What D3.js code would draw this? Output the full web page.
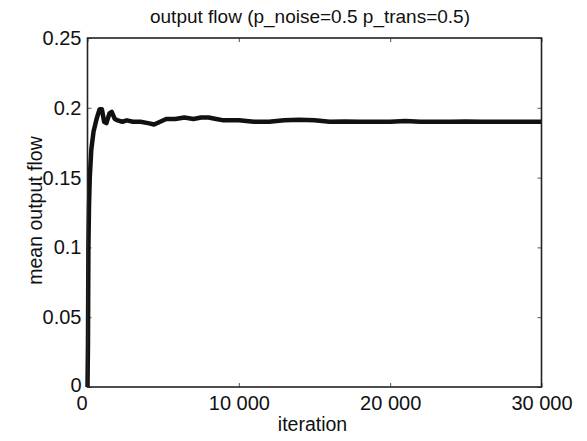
<!DOCTYPE html>
<html>
<head>
<meta charset="utf-8">
<script src="https://cdn.jsdelivr.net/npm/d3@7"></script>
<style>
  body { margin: 0; background: #fff; }
  svg text { font-family: "Liberation Sans", Arial, sans-serif; fill: #111; }
</style>
</head>
<body>
<svg width="587" height="441"></svg>
<script>
// mean output flow vs iteration
const iterations = [0, 30, 60, 100, 150, 250, 400, 600, 800, 950, 1100, 1250, 1450, 1600, 1800, 2000,
  2300, 2600, 3000, 3500, 4000, 4400, 4800, 5200, 5800, 6400, 7000, 7500, 8000, 8500, 9000, 10000,
  11000, 12000, 13000, 14000, 15000, 16000, 17000, 18000, 19000, 20000, 21000, 22000, 23000, 24000,
  25000, 26000, 27000, 28000, 29000, 30000];
const flow = [0, 0.03, 0.1, 0.13, 0.15, 0.17, 0.183, 0.192, 0.199, 0.199, 0.19, 0.189, 0.196, 0.197, 0.192, 0.191,
  0.19, 0.191, 0.19, 0.19, 0.189, 0.188, 0.19, 0.192, 0.192, 0.193, 0.192, 0.193, 0.193, 0.192, 0.191, 0.191,
  0.19, 0.19, 0.191, 0.1915, 0.191, 0.19, 0.1902, 0.19, 0.19, 0.19, 0.1905, 0.19, 0.19, 0.19,
  0.1902, 0.19, 0.19, 0.19, 0.19, 0.19];
const xTicks = [0, 10000, 20000, 30000];
const yTicks = [0, 0.05, 0.1, 0.15, 0.2, 0.25];
const title = "output flow (p_noise=0.5 p_trans=0.5)";

const svg = d3.select("svg");
const mLeft = 87.5, mRight = 541.5, mTop = 38, mBottom = 387;

const x = d3.scaleLinear().domain([0, 30000]).range([mLeft, mRight]);
const y = d3.scaleLinear().domain([0, 0.25]).range([mBottom, mTop]);

const fmtX = d => d3.format(",")(d).replace(/,/g, " ");
const fmtY = d => d === 0 ? "0" : String(+d.toFixed(2));

// bottom / left axes: ticks inward
svg.append("g")
   .attr("transform", `translate(0,${mBottom})`)
   .call(d3.axisBottom(x).tickValues(xTicks).tickSize(-4).tickPadding(9).tickFormat(fmtX))
   .call(g => g.select(".domain").remove())
   .call(g => g.selectAll(".tick line").attr("stroke", "#555"))
   .call(g => g.selectAll("text").attr("font-size", 20).attr("dy", "0.71em")
               .attr("dx", d => d === 0 ? -6 : 0));

svg.append("g")
   .attr("transform", `translate(${mLeft},0)`)
   .call(d3.axisLeft(y).tickValues(yTicks).tickSize(-4).tickPadding(6).tickFormat(fmtY))
   .call(g => g.select(".domain").remove())
   .call(g => g.selectAll(".tick line").attr("stroke", "#555"))
   .call(g => g.selectAll("text").attr("font-size", 20)
               .attr("dy", d => d === 0 ? "0.2em" : "0.32em"));

// top / right mirror ticks
svg.append("g")
   .attr("transform", `translate(0,${mTop})`)
   .call(d3.axisTop(x).tickValues(xTicks).tickSize(-4).tickFormat(""))
   .call(g => g.select(".domain").remove())
   .call(g => g.selectAll(".tick line").attr("stroke", "#555"));

svg.append("g")
   .attr("transform", `translate(${mRight},0)`)
   .call(d3.axisRight(y).tickValues(yTicks).tickSize(-4).tickFormat(""))
   .call(g => g.select(".domain").remove())
   .call(g => g.selectAll(".tick line").attr("stroke", "#555"));

// data line
const line = d3.line().x((d, i) => x(iterations[i])).y(d => y(d));
svg.append("path")
   .datum(flow)
   .attr("fill", "none")
   .attr("stroke", "#111")
   .attr("stroke-width", 4.5)
   .attr("stroke-linejoin", "round")
   .attr("d", line);

// box
svg.append("rect")
   .attr("x", mLeft).attr("y", mTop)
   .attr("width", mRight - mLeft).attr("height", mBottom - mTop)
   .attr("fill", "none").attr("stroke", "#222").attr("stroke-width", 1.6);

svg.append("text")
   .attr("x", 310).attr("y", 23)
   .attr("text-anchor", "middle").attr("font-size", 19)
   .text(title);

svg.append("text")
   .attr("x", 312.5).attr("y", 431)
   .attr("text-anchor", "middle").attr("font-size", 19.5)
   .text("iteration");

svg.append("text")
   .attr("transform", `translate(42,210.5) rotate(-90)`)
   .attr("text-anchor", "middle").attr("font-size", 19.5)
   .text("mean output flow");
</script>
</body>
</html>
